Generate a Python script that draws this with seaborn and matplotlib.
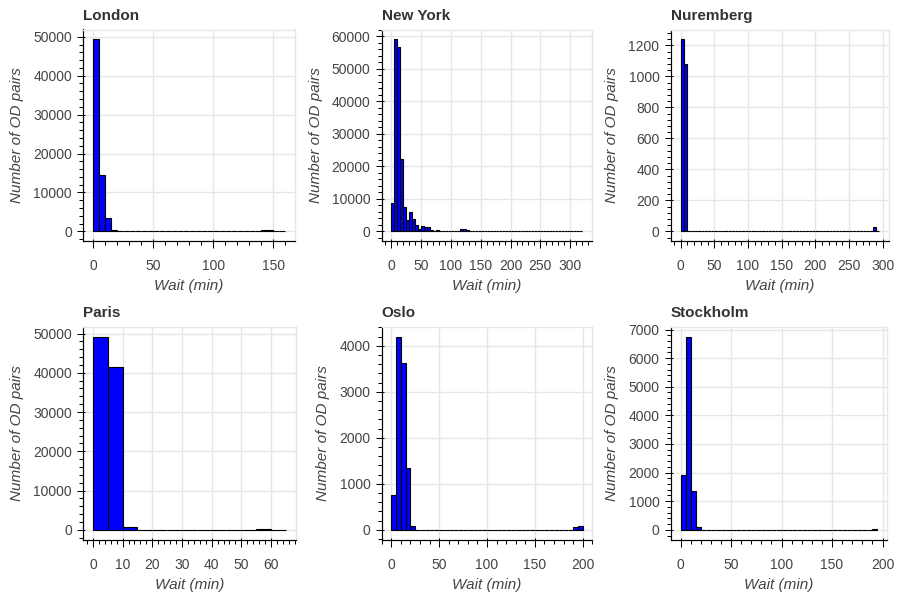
import numpy as np
import pandas as pd
import matplotlib
matplotlib.use("Agg")
import matplotlib.pyplot as plt
from matplotlib.path import Path
from matplotlib.ticker import MultipleLocator, ScalarFormatter
import seaborn as sns

# Waiting-time histograms: number of origin-destination pairs per 5-minute bin
BIN_WIDTH = 5  # minutes

cities = ["London", "New York", "Nuremberg", "Paris", "Oslo", "Stockholm"]

london_counts = [49400, 14500, 3400, 450, 120, 40, 20, 10, 5, 5, 5, 5, 5, 5, 5, 5,
                 5, 5, 5, 5, 5, 5, 5, 5, 5, 5, 5, 10, 350, 280, 30, 20]

new_york_counts = [8700, 59100, 56800, 22300, 7600, 3600, 5900, 3800, 1950, 750,
                   1600, 1500, 1400, 500, 200, 400, 120, 80, 60, 50,
                   60, 80, 150, 650, 750, 300, 100, 50, 40, 40,
                   30, 30, 30, 30, 30, 30, 30, 30, 30, 30,
                   30, 30, 30, 30, 30, 30, 30, 30, 30, 30,
                   30, 30, 30, 40, 40, 60, 80, 150, 100, 60,
                   50, 40, 40, 30]

nuremberg_counts = [1240, 1080, 2, 1, 1, 1, 1, 1, 1, 1,
                    1, 1, 1, 1, 1, 1, 1, 1, 1, 1,
                    1, 1, 1, 1, 1, 1, 1, 1, 1, 1,
                    1, 1, 1, 1, 1, 1, 1, 1, 1, 1,
                    1, 1, 1, 1, 1, 1, 1, 1, 1, 1,
                    1, 1, 1, 1, 1, 1, 1, 30, 5]

paris_counts = [49200, 41600, 800, 10, 5, 5, 5, 5, 5, 5, 5, 220, 10]

oslo_counts = [760, 4200, 3620, 1340, 80, 5, 2, 2, 2, 2,
               2, 2, 2, 2, 2, 2, 2, 2, 2, 2,
               2, 2, 2, 2, 2, 2, 2, 2, 2, 2,
               2, 2, 2, 2, 2, 2, 2, 2, 70, 85]

stockholm_counts = [1920, 6750, 1370, 115, 10, 5, 2, 2, 2, 2,
                    2, 2, 2, 2, 2, 2, 2, 2, 2, 2,
                    2, 2, 2, 2, 2, 2, 2, 2, 2, 2,
                    2, 2, 2, 2, 2, 2, 2, 2, 25]

all_counts = [london_counts, new_york_counts, nuremberg_counts,
              paris_counts, oslo_counts, stockholm_counts]

# major tick spacing for x and y (minor ticks split each interval in five)
x_major = [50, 50, 50, 10, 50, 50]
y_major = [10000, 10000, 200, 10000, 1000, 1000]

# plot frames in pixels: left, right, top, bottom
frames = [
    (83.3, 295.0, 29.5, 241.0),
    (381.7, 591.7, 29.5, 241.0),
    (670.7, 889.3, 29.5, 241.0),
    (83.3, 295.5, 327.0, 539.5),
    (381.7, 592.3, 327.0, 539.5),
    (670.7, 887.3, 327.0, 539.5),
]

W, H = 899, 592
TEXT = "#444444"
GRID = "#e6e6e6"
PX = 0.72  # points per pixel at 100 dpi

TICK_OUT, TICK_IN = 6.5, 2.0  # major tick extent in pixels
# major tick marks that reach a little inside the frame and further outside
x_tick_marker = Path([(0, TICK_IN), (0, -TICK_OUT)], [Path.MOVETO, Path.LINETO])
y_tick_marker = Path([(TICK_IN, 0), (-TICK_OUT, 0)], [Path.MOVETO, Path.LINETO])

sns.set_theme(style="white")
plt.rcParams["font.family"] = ["Liberation Sans", "DejaVu Sans"]

fig = plt.figure(figsize=(W / 100, H / 100), dpi=100)
fig.patch.set_facecolor("white")

for city, counts, xm, ym, (l, r, t, b) in zip(cities, all_counts, x_major, y_major, frames):
    ax = fig.add_axes([l / W, (H - b) / H, (r - l) / W, (b - t) / H])
    span = len(counts) * BIN_WIDTH
    starts = np.arange(len(counts)) * BIN_WIDTH
    df = pd.DataFrame({"wait": starts + BIN_WIDTH / 2, "pairs": counts})
    sns.histplot(data=df, x="wait", weights="pairs", binwidth=BIN_WIDTH,
                 binrange=(0, span), ax=ax,
                 color="#0000ff", edgecolor="black", linewidth=0.8, alpha=1)

    top = max(counts)
    ax.set_xlim(-0.05 * span, 1.05 * span)
    ax.set_ylim(-0.05 * top, 1.05 * top)

    ax.xaxis.set_major_locator(MultipleLocator(xm))
    ax.xaxis.set_minor_locator(MultipleLocator(xm / 5))
    ax.yaxis.set_major_locator(MultipleLocator(ym))
    ax.yaxis.set_minor_locator(MultipleLocator(ym / 5))
    fmt = ScalarFormatter(useOffset=False)
    fmt.set_scientific(False)
    ax.yaxis.set_major_formatter(fmt)

    ax.set_axisbelow(True)
    ax.grid(True, which="major", color=GRID, linewidth=1.0)
    ax.grid(False, which="minor")

    for side in ("top", "right"):
        ax.spines[side].set_color(GRID)
        ax.spines[side].set_linewidth(1.0)
    for side in ("left", "bottom"):
        ax.spines[side].set_color("black")
        ax.spines[side].set_linewidth(1.0 * PX * 1.2)

    ax.tick_params(axis="both", which="both", bottom=True, left=True,
                   top=False, right=False)
    ax.tick_params(axis="both", which="major", direction="out", length=TICK_OUT * PX,
                   width=1.0 * PX, color="black", labelsize=10, labelcolor=TEXT)
    ax.tick_params(axis="x", which="major", pad=8.6)
    ax.tick_params(axis="y", which="major", pad=3.4)
    ax.tick_params(axis="both", which="minor", direction="out", length=4.2 * PX,
                   width=1.0 * PX, color="black")

    ax.set_xlabel("Wait (min)", fontsize=11, style="italic", color=TEXT, labelpad=4)
    ax.set_ylabel("Number of OD pairs", fontsize=11, style="italic", color=TEXT, labelpad=6.5)
    ax.set_title(city, loc="left", fontsize=11, fontweight="bold", color="#333333", pad=7)

    for tick in ax.xaxis.get_major_ticks():
        tick.tick1line.set_marker(x_tick_marker)
        tick.tick1line.set_markersize(2 * TICK_OUT * PX)
    for tick in ax.yaxis.get_major_ticks():
        tick.tick1line.set_marker(y_tick_marker)
        tick.tick1line.set_markersize(2 * TICK_OUT * PX)

fig.savefig("out.png", dpi=100, facecolor="white")
